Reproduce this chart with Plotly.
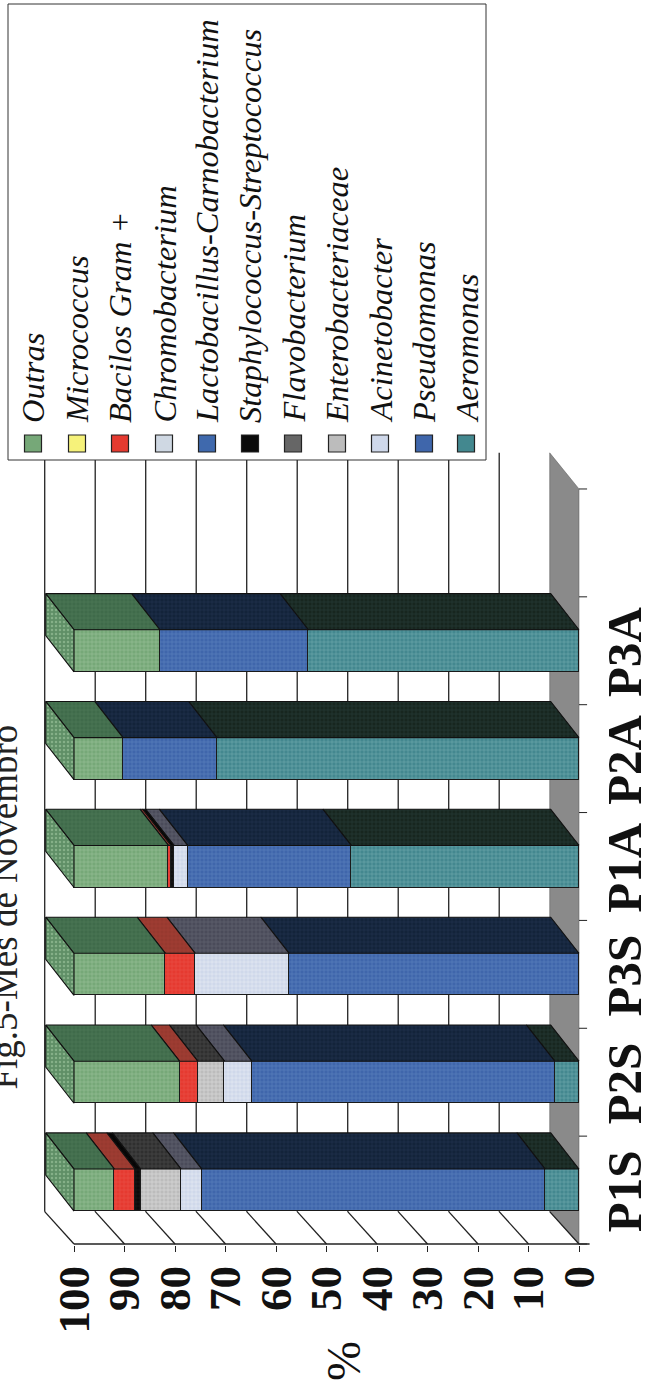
import plotly.graph_objects as go

# ---------- data ----------
categories = ["P1S", "P2S", "P3S", "P1A", "P2A", "P3A"]
value_ticks = [0, 10, 20, 30, 40, 50, 60, 70, 80, 90, 100]
aeromonas = [6.7, 4.8, 0, 45.1, 71.7, 53.6]
pseudomonas = [68.0, 60.0, 57.4, 32.4, 18.6, 29.4]
acinetobacter = [4.1, 5.4, 18.6, 2.7, 0, 0]
enterobacteriaceae = [8.0, 5.3, 0, 0, 0, 0]
flavobacterium = [0, 0, 0, 0, 0, 0]
staphylococcus = [1.1, 0, 0, 0.6, 0, 0]
lactobacillus = [0, 0, 0, 0, 0, 0]
chromobacterium = [0, 0, 0, 0, 0, 0]
bacilos = [4.1, 3.6, 5.9, 0.5, 0, 0]
micrococcus = [0, 0, 0, 0, 0, 0]
outras = [8.0, 20.9, 18.1, 18.7, 9.7, 17.0]

series = [
    ("Aeromonas", aeromonas, "#43888f", "#17261f", "#86bcc0"),
    ("Pseudomonas", pseudomonas, "#3f66ab", "#13233a", "#6a8cc6"),
    ("Acinetobacter", acinetobacter, "#cfd8ea", "#4a4b5a", "#f2f4fa"),
    ("Enterobacteriaceae", enterobacteriaceae, "#bcbcbc", "#2f2f2f", "#ececec"),
    ("Flavobacterium", flavobacterium, "#666666", "#333333", "#888888"),
    ("Staphylococcus-Streptococcus", staphylococcus, "#0a0a0a", "#050505", "#222222"),
    ("Lactobacillus-Carnobacterium", lactobacillus, "#3f69ad", "#14233a", "#6a8cc6"),
    ("Chromobacterium", chromobacterium, "#cfd8e3", "#4a4b5c", "#f2f4fa"),
    ("Bacilos Gram +", bacilos, "#e53a30", "#97392f", "#ec5a50"),
    ("Micrococcus", micrococcus, "#f6f27a", "#a8a548", "#f6f27a"),
    ("Outras", outras, "#76a878", "#3f6b4a", "#a8cea8"),
]

# ---------- geometry ----------
W, H = 651, 1398
PL, PR, PT, PB = 30, 606, 440, 1245
X0, PX_VAL = 579.0, 5.05
Y_LOW, PX_CAT = 1244.0, 107.86
BAR_W = 0.39
DX, DY = 5.6, 0.335
WALL_DX, WALL_DY = 5.8, 0.30
LABEL_SHIFT = 0.08
n_slots = len(categories) + 1
Y_TOP = n_slots - 0.5


def xp(px):
    return (px - PL) / (PR - PL)


def yp(px):
    return 1 - (px - PT) / (PB - PT)


PAT = dict(shape="+", size=4, solidity=0.25)
LINE = dict(color="#1a1a1a", width=1.3)

fig = go.Figure()
ypos = list(range(len(categories)))

# front faces
for name, vals, col, top, fg in series:
    fig.add_trace(go.Bar(
        y=ypos, x=[v if v else None for v in vals], orientation="h", name=name,
        width=BAR_W, showlegend=False,
        marker=dict(color=col, line=LINE, pattern=dict(fgcolor=fg, bgcolor=col, fgopacity=0.7, **PAT)),
    ))

# upper faces, following the stack
cum = [0.0] * len(categories)
for name, vals, col, top, fg in series:
    xs, ys = [], []
    for i, v in enumerate(vals):
        if v:
            a, b = cum[i], cum[i] + v
            yt = i + BAR_W / 2
            xs += [a, b, b + DX, a + DX, a, None]
            ys += [yt, yt, yt + DY, yt + DY, yt, None]
            cum[i] = b
    fig.add_trace(go.Scatter(x=xs, y=ys, mode="lines", fill="toself", fillcolor=top,
                             fillpattern=dict(fgcolor=fg, bgcolor=top, fgopacity=0.16, shape="+", size=4, solidity=0.25),
                             line=dict(color="#111111", width=1.1), showlegend=False, hoverinfo="skip"))

# end faces at the top of the stack
xs, ys = [], []
for i, t in enumerate(cum):
    yb, yt = i - BAR_W / 2, i + BAR_W / 2
    xs += [t, t, t + DX, t + DX, t, None]
    ys += [yb, yt, yt + DY, yb + DY, yb, None]
fig.add_trace(go.Scatter(x=xs, y=ys, mode="lines", fill="toself", fillcolor="#5f8f66",
                         fillpattern=dict(fgcolor="#9fc49f", bgcolor="#5f8f66", fgopacity=0.6, shape=".", size=4, solidity=0.3),
                         line=dict(color="#111111", width=1.1), showlegend=False, hoverinfo="skip"))

shapes = []
# floor
shapes.append(dict(type="path", xref="x", yref="y", layer="below", fillcolor="#8a8a8a",
                   line=dict(color="#555555", width=0.5),
                   path=f"M 0 -0.5 L {WALL_DX} {-0.5 + WALL_DY} L {WALL_DX} {Y_TOP + DY} L 0 {Y_TOP} Z"))
# wall grid lines, side-wall diagonals, base line, slot ticks
for v in value_ticks:
    if v:
        shapes.append(dict(type="line", xref="x", yref="y", layer="below",
                           x0=v + WALL_DX, x1=v + WALL_DX, y0=-0.5 + WALL_DY, y1=Y_TOP + DY,
                           line=dict(color="#222222", width=1.3)))
    shapes.append(dict(type="line", xref="x", yref="y", layer="below",
                       x0=v, x1=v + WALL_DX, y0=-0.5, y1=-0.5 + WALL_DY,
                       line=dict(color="#222222", width=1.3)))
shapes.append(dict(type="line", xref="x", yref="y", layer="below", x0=-2.1, x1=100, y0=-0.5, y1=-0.5,
                   line=dict(color="#222222", width=1.3)))
for k in range(n_slots + 1):
    shapes.append(dict(type="line", xref="x", yref="y", layer="below", x0=0, x1=-1.6,
                       y0=k - 0.5, y1=k - 0.5, line=dict(color="#222222", width=1)))

# legend box
shapes.append(dict(type="rect", xref="paper", yref="paper", layer="above", fillcolor="white",
                   x0=xp(8), x1=xp(486), y0=yp(460), y1=yp(4), line=dict(color="#333333", width=1)))
annotations = []
leg_x = [33, 77, 120, 164, 207, 250, 293, 337, 380, 424, 466]
for (name, vals, col, top, fg), cx in zip(reversed(series), leg_x):
    shapes.append(dict(type="rect", xref="paper", yref="paper", layer="above", fillcolor=col,
                       x0=xp(cx - 8.5), x1=xp(cx + 8.5), y0=yp(452), y1=yp(435),
                       line=dict(color="#222222", width=1.2)))
    annotations.append(dict(text=name, xref="paper", yref="paper", x=xp(cx), y=yp(425),
                            xanchor="center", yanchor="bottom", textangle=-90, showarrow=False,
                            font=dict(family="Liberation Serif", size=32.5, color="#111111", style="italic")))

annotations.append(dict(text="%", xref="paper", yref="paper", x=xp(343), y=yp(1383),
                        xanchor="center", yanchor="bottom", textangle=-90, showarrow=False,
                        font=dict(family="Liberation Serif", size=48, color="#111111")))
annotations.append(dict(text="Fig.5-Mês de Novembro", xref="paper", yref="paper", x=xp(4), y=yp(1092),
                        xanchor="center", yanchor="bottom", textangle=-90, showarrow=False,
                        font=dict(family="Liberation Serif", size=37, color="#222222")))

fig.update_layout(
    width=W, height=H, barmode="stack", bargap=0, showlegend=False,
    paper_bgcolor="white", plot_bgcolor="white",
    margin=dict(l=PL, r=W - PR, t=PT, b=H - PB, pad=0, autoexpand=False),
    shapes=shapes, annotations=annotations,
    xaxis=dict(range=[(X0 - PL) / PX_VAL, (X0 - PR) / PX_VAL], tickmode="array", tickvals=value_ticks,
               ticktext=[str(v) for v in value_ticks], tickangle=-90, ticks="outside", ticklen=6,
               ticklabelstandoff=-4,
               tickcolor="#222222", showgrid=False, zeroline=False, showline=False,
               tickfont=dict(family="Liberation Serif", size=45, color="#111111", weight=700)),
    yaxis=dict(range=[-0.5 - (PB - Y_LOW) / PX_CAT, -0.5 + (Y_LOW - PT) / PX_CAT], side="right",
               tickmode="array", tickvals=[i - LABEL_SHIFT for i in ypos], ticktext=categories, tickangle=-90, ticks="",
               ticklabelstandoff=-15,
               showgrid=False, zeroline=False, showline=False,
               tickfont=dict(family="Liberation Serif", size=49, color="#111111", weight=700)),
)

fig.write_html("out.html", config=dict(displayModeBar=False), post_script="document.body.style.margin='0';")
